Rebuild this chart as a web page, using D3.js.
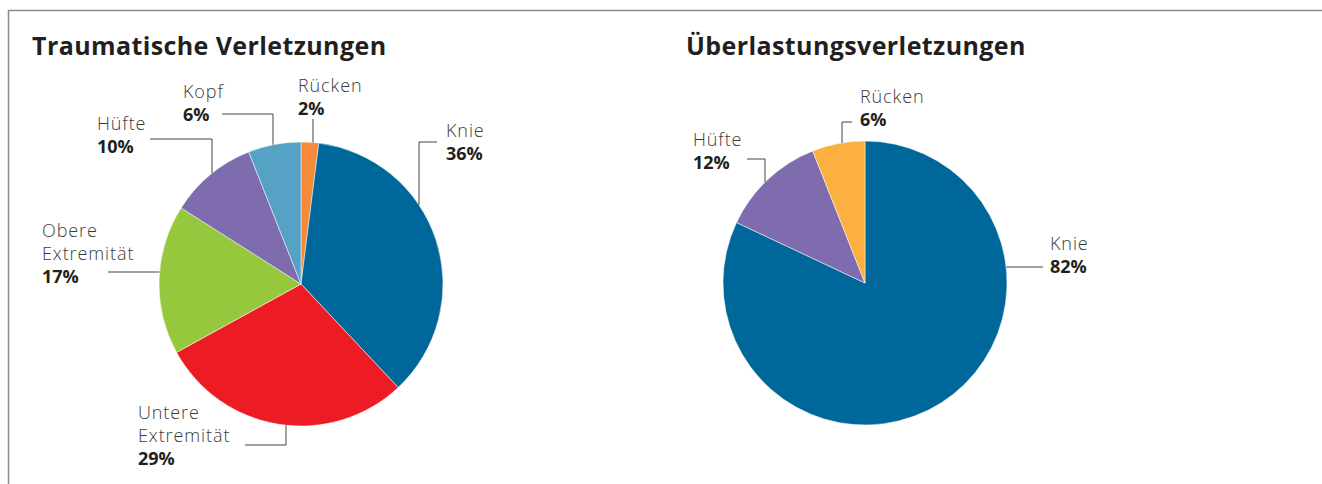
<!DOCTYPE html>
<html>
<head>
<meta charset="utf-8">
<script src="https://cdn.jsdelivr.net/npm/d3@7"></script>
<style>
  body { margin: 0; background: #fff; }
  svg { display: block; font-family: "Open Sans", Roboto, sans-serif; }
  .title { font-size: 25px; font-weight: 700; fill: #231f20; letter-spacing: 0.4px; }
  .lbl { font-size: 18px; font-weight: 300; fill: #3a3a3a; letter-spacing: 0.9px; }
  .pct { font-size: 18px; font-weight: 700; fill: #231f20; }
  .leader { fill: none; stroke: #444; stroke-width: 1; }
</style>
</head>
<body>
<svg width="1322" height="484"></svg>
<script>
// Data
var traumaLabels = [["Rücken"], ["Knie"], ["Untere", "Extremität"], ["Obere", "Extremität"], ["Hüfte"], ["Kopf"]];
var traumaValues = [2, 36, 29, 17, 10, 6];
var traumaColors = ["#f58a3b", "#00679a", "#ed1c24", "#96c83d", "#7e6caf", "#55a2c4"];

var overloadLabels = [["Knie"], ["Hüfte"], ["Rücken"]];
var overloadValues = [82, 12, 6];
var overloadColors = ["#00679a", "#7e6caf", "#fbb040"];

// Label layout (relative to pie centre): text anchor + leader line points.
// "top"/"bottom"/"left"/"right" snaps that coordinate onto the circle.
var traumaLayout = [
    { tx: -3,   ty: -192, leader: [[12, -165], [12, "top"]] },
    { tx: 145,  ty: -147, leader: [[136, -142], [118, -142], [118, "top"]] },
    { tx: -163, ty: 135,  leader: [[-56, 161], [-15, 161], [-15, "bottom"]] },
    { tx: -259, ty: -47,  leader: [[-193, -12], ["left", -12]] },
    { tx: -204, ty: -154, leader: [[-151, -145], [-89, -145], [-89, "top"]] },
    { tx: -118, ty: -186, leader: [[-79, -170], [-28, -170], [-28, "top"]] }
];
var overloadLayout = [
    { tx: 185,  ty: -33,  leader: [[178, -16], ["right", -16]] },
    { tx: -172, ty: -137, leader: [[-118, -124], [-100, -124], [-100, "top"]] },
    { tx: -5,   ty: -180, leader: [[-13, -161], [-23, -161], [-23, "top"]] }
];

var radius = 142,
    lineH = 23;

var svg = d3.select("svg");

// Frame (top and left rule)
svg.append("path")
    .attr("d", "M8.5,484V10.5H1322")
    .attr("fill", "none")
    .attr("stroke", "#8a8a8a")
    .attr("stroke-width", 1.5);

var pie = d3.pie().sort(null).value(function(d) { return d; });
var arc = d3.arc().innerRadius(0).outerRadius(radius);

function snap(p) {
    var x = p[0], y = p[1];
    if (y === "top") y = -Math.sqrt(radius * radius - x * x);
    if (y === "bottom") y = Math.sqrt(radius * radius - x * x);
    if (x === "left") x = -Math.sqrt(radius * radius - y * y);
    if (x === "right") x = Math.sqrt(radius * radius - y * y);
    return [x, y];
}

function drawPie(title, titleX, cx, cy, labels, values, colors, layout) {
    svg.append("text")
        .attr("class", "title")
        .attr("x", titleX)
        .attr("y", 55)
        .text(title);

    var g = svg.append("g")
        .attr("transform", "translate(" + cx + "," + cy + ")");

    g.selectAll("path.slice")
        .data(pie(values))
        .enter()
        .append("path")
        .attr("class", "slice")
        .attr("d", arc)
        .attr("fill", function(d, i) { return colors[i]; })
        .attr("stroke", "#fff")
        .attr("stroke-width", 0.5);

    var line = d3.line();

    layout.forEach(function(l, i) {
        g.append("path")
            .attr("class", "leader")
            .attr("d", line(l.leader.map(snap)));

        var t = g.append("text").attr("x", l.tx).attr("y", l.ty);
        labels[i].forEach(function(s, k) {
            t.append("tspan")
                .attr("class", "lbl")
                .attr("x", l.tx)
                .attr("dy", k === 0 ? 0 : lineH)
                .text(s);
        });
        t.append("tspan")
            .attr("class", "pct")
            .attr("x", l.tx)
            .attr("dy", lineH)
            .text(values[i] + "%");
    });
}

drawPie("Traumatische Verletzungen", 32, 301, 284, traumaLabels, traumaValues, traumaColors, traumaLayout);
drawPie("Überlastungsverletzungen", 686, 865, 283, overloadLabels, overloadValues, overloadColors, overloadLayout);
</script>
</body>
</html>
